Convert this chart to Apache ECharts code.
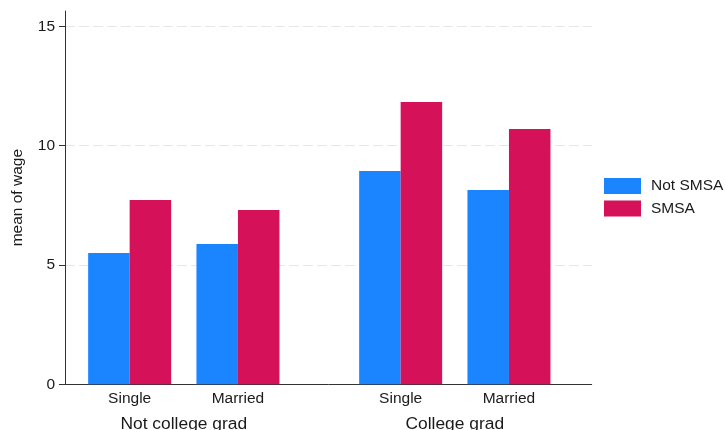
<!DOCTYPE html>
<html>
<head>
<meta charset="utf-8">
<script src="https://cdn.jsdelivr.net/npm/echarts@6/dist/echarts.min.js"></script>
<style>
html,body{margin:0;padding:0;background:#fff;}
#chart{width:725px;height:430px;}
</style>
</head>
<body>
<div id="chart"></div>
<script>
// ---- data ----
const groups = ["Not college grad", "College grad"];
const marital = ["Single", "Married"];
const seriesNames = ["Not SMSA", "SMSA"];
const notSmsaNotGrad = [5.50, 5.88];
const smsaNotGrad = [7.72, 7.30];
const notSmsaGrad = [8.94, 8.14];
const smsaGrad = [11.83, 10.70];
const yTicks = [0, 5, 10, 15];
const yMax = 15.64;

const colors = ["#1A85FF", "#D41159"];
const textColor = "#1a1a1a";
const fontFamily = "Liberation Sans, Arial, sans-serif";

const chart = echarts.init(document.getElementById('chart'), null, {renderer: 'canvas'});

const gridTop = 11, gridBottom = 45.7;
const slot = 108.3;

const hiddenY = (gi) => ({
  type: 'value', gridIndex: gi, min: 0, max: yMax, interval: 5, show: false
});

const catX = (gi, name) => ({
  type: 'category', gridIndex: gi, data: marital,
  axisLine: {show: false}, axisTick: {show: false},
  axisLabel: {color: textColor, fontSize: 15.5, fontFamily, margin: 6},
  name: name, nameLocation: 'middle', nameGap: 31,
  nameTextStyle: {color: textColor, fontSize: 17.4, fontFamily}
});

const barSeries = (name, data, gi, ci) => ({
  type: 'bar', name: name, data: data,
  xAxisIndex: gi, yAxisIndex: gi,
  barWidth: 41.5, barGap: '0%',
  itemStyle: {color: colors[ci]},
  emphasis: {disabled: true}
});

const option = {
  animation: false,
  textStyle: {fontFamily},
  grid: [
    {left: 65, right: 133.3, top: gridTop, bottom: gridBottom, outerBoundsMode: 'none', containLabel: false},
    {left: 75.5, width: 2 * slot, top: gridTop, bottom: gridBottom, outerBoundsMode: 'none', containLabel: false},
    {left: 346.5, width: 2 * slot, top: gridTop, bottom: gridBottom, outerBoundsMode: 'none', containLabel: false}
  ],
  xAxis: [
    {type: 'category', gridIndex: 0, data: [''],
     axisLine: {show: true, lineStyle: {color: '#333', width: 1}},
     axisTick: {show: false}, axisLabel: {show: false}},
    catX(1, groups[0]),
    catX(2, groups[1])
  ],
  yAxis: [
    {type: 'value', gridIndex: 0, min: 0, max: yMax, interval: 5,
     axisLine: {show: true, lineStyle: {color: '#333', width: 1}},
     axisTick: {show: true, length: 6, customValues: yTicks, lineStyle: {color: '#333'}},
     axisLabel: {color: textColor, fontSize: 15.5, fontFamily, margin: 10, customValues: yTicks},
     splitLine: {show: true, showMaxLine: true, showMinLine: false,
                 lineStyle: {color: '#e6e6e6', type: [10, 4], width: 1}},
     name: 'mean of wage', nameLocation: 'middle', nameGap: 39,
     nameTextStyle: {color: textColor, fontSize: 15.5, fontFamily}},
    hiddenY(1),
    hiddenY(2)
  ],
  legend: {
    orient: 'vertical', left: 604, top: 178, padding: 0,
    itemWidth: 37, itemHeight: 16, itemGap: 6.5,
    icon: 'rect', data: seriesNames,
    textStyle: {color: textColor, fontSize: 15.5, fontFamily, padding: [0, 0, 0, 5]},
    selectedMode: false
  },
  series: [
    barSeries(seriesNames[0], notSmsaNotGrad, 1, 0),
    barSeries(seriesNames[1], smsaNotGrad, 1, 1),
    barSeries(seriesNames[0], notSmsaGrad, 2, 0),
    barSeries(seriesNames[1], smsaGrad, 2, 1)
  ]
};
chart.setOption(option);
</script>
</body>
</html>
